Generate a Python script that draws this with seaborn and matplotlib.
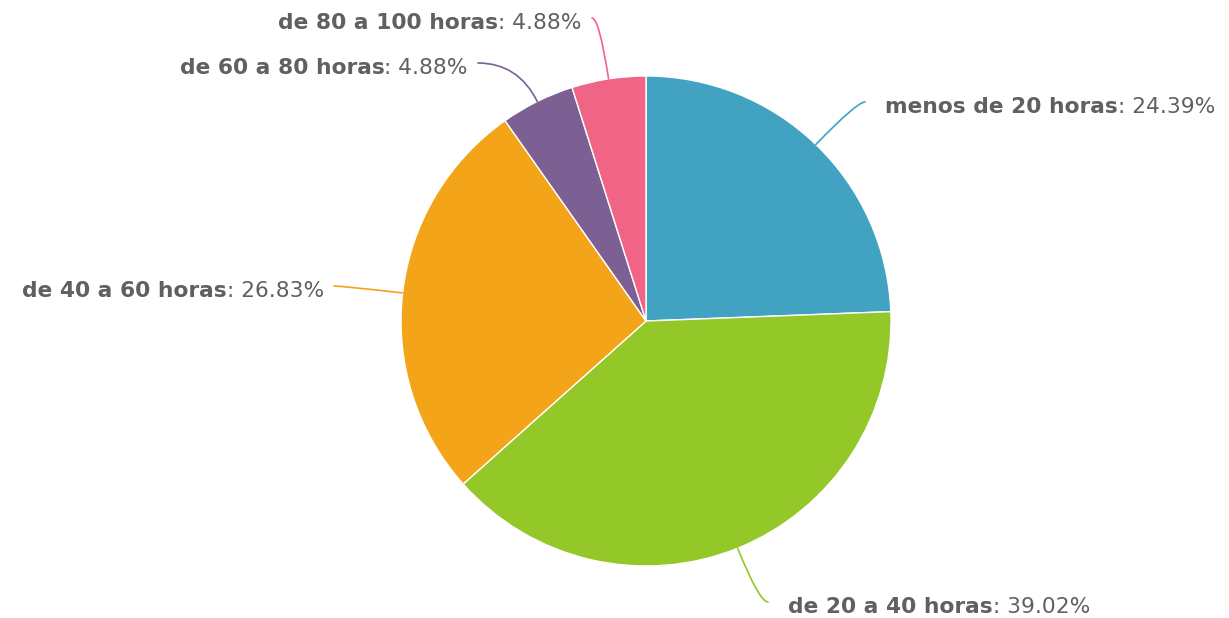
import numpy as np
import matplotlib
matplotlib.use("Agg")
import matplotlib.pyplot as plt
import seaborn as sns

categories = ["menos de 20 horas", "de 20 a 40 horas", "de 40 a 60 horas",
              "de 60 a 80 horas", "de 80 a 100 horas"]
shares = [24.39, 39.02, 26.83, 4.88, 4.88]
colors = ["#41A2C2", "#94C828", "#F4A419", "#7D6093", "#F06585"]

sns.set_theme(style="white")
plt.rcParams["font.family"] = ["DejaVu Sans"]
text_color = "#606060"

W, H = 1229, 618
fig = plt.figure(figsize=(W / 100, H / 100), dpi=100)
ax = fig.add_axes([0, 0, 1, 1])

cx, cy, r = 646, 321, 245
# y axis is inverted below, so counterclock=True draws clockwise on screen
wedges, _ = ax.pie(shares, colors=colors, startangle=-90, counterclock=True,
                   center=(cx, cy), radius=r, frame=True,
                   wedgeprops=dict(edgecolor="white", linewidth=1))
ax.set_xlim(0, W)
ax.set_ylim(H, 0)  # pixel coords, y down
ax.set_aspect("equal")
ax.axis("off")

# label line end points and sides (layout)
label_ends = [(865, 102), (768, 602), (334, 286), (478, 63), (592, 18)]
sides = ["right", "right", "left", "left", "left"]
fs = 15.7

for w, name, val, (lx, ly), side, c in zip(wedges, categories, shares,
                                            label_ends, sides, colors):
    mid = np.deg2rad((w.theta1 + w.theta2) / 2)
    ex, ey = cx + r * np.cos(mid), cy + r * np.sin(mid)
    ang_screen = -np.rad2deg(mid)
    ax.annotate("", xy=(ex, ey), xytext=(lx, ly),
                arrowprops=dict(arrowstyle="-", color=c, lw=1.2,
                                shrinkA=0, shrinkB=0,
                                connectionstyle=f"angle3,angleA=0,angleB={ang_screen:.1f}"))
    ty = ly + 5
    if side == "right":
        t = ax.text(lx + 20, ty, name, ha="left", va="center", fontsize=fs,
                    fontweight="bold", color=text_color)
        ax.annotate(f": {val:.2f}%", xy=(1, 0), xycoords=t, ha="left",
                    va="bottom", fontsize=fs, color=text_color)
    else:
        t = ax.text(lx - 10, ty, f": {val:.2f}%", ha="right", va="center",
                    fontsize=fs, color=text_color)
        ax.annotate(name, xy=(0, 0), xycoords=t, ha="right", va="bottom",
                    fontsize=fs, fontweight="bold", color=text_color)

fig.savefig("out.png", dpi=100, facecolor="white")
